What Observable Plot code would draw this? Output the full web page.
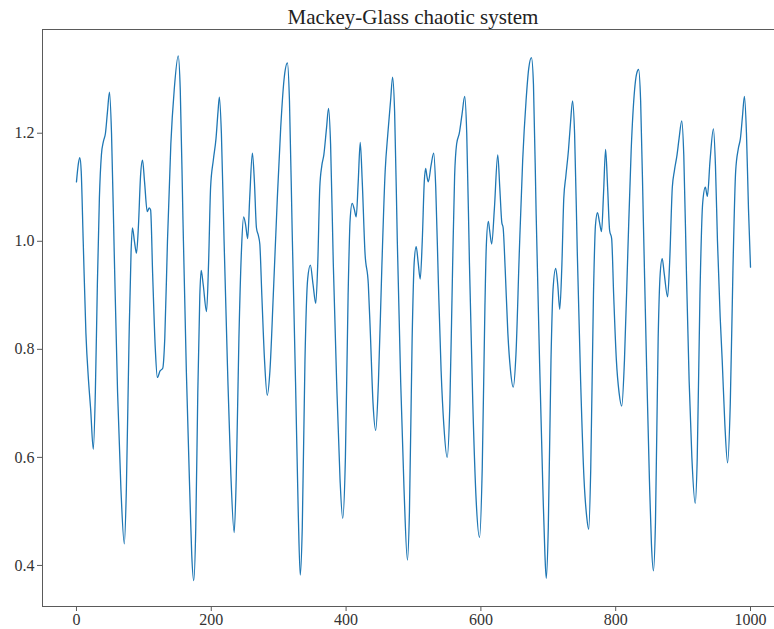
<!DOCTYPE html>
<html>
<head>
<meta charset="utf-8">
<script src="https://cdn.jsdelivr.net/npm/d3@7"></script>
<script src="https://cdn.jsdelivr.net/npm/@observablehq/plot@0.6"></script>
<style>
  html, body { margin: 0; padding: 0; background: #fff; overflow: hidden; }
  #wrap { position: relative; width: 774px; height: 629px; }
  #title {
    position: absolute; left: 413px; top: 7px; transform: translateX(-50%);
    font-family: "Liberation Serif", "DejaVu Serif", serif; font-size: 21px;
    color: #222; white-space: nowrap; line-height: 20px;
  }
  #chart { position: absolute; left: 0; top: 29px; }
  #chart svg text { font-family: "Liberation Serif", "DejaVu Serif", serif; }
</style>
</head>
<body>
<div id="wrap">
  <div id="title">Mackey-Glass chaotic system</div>
  <div id="chart"></div>
</div>
<script>
// Mackey-Glass series: time step and value at the turning points of the trace
const t = [
  0, 3, 5, 7, 10, 14, 18, 21, 25, 28, 31, 34, 37, 40, 43, 46, 49, 52, 56, 61,
  66, 71, 74, 78, 81, 83, 86, 89, 92, 95, 98, 101, 105, 108, 110, 113, 117, 120, 124, 128,
  131, 135, 140, 145, 151, 154, 158, 163, 168, 171, 174, 177, 180, 183, 185, 188, 193, 196, 199, 203,
  207, 210, 212, 215, 219, 224, 229, 234, 237, 241, 245, 248, 251, 254, 257, 261, 264, 267, 270, 272,
  275, 279, 283, 287, 292, 298, 303, 308, 313, 316, 320, 325, 329, 332, 335, 339, 343, 347, 351, 355,
  358, 361, 364, 367, 371, 374, 377, 381, 386, 391, 395, 399, 403, 406, 409, 412, 415, 418, 421, 424,
  428, 433, 436, 440, 444, 448, 453, 458, 462, 466, 469, 472, 476, 481, 486, 491, 494, 498, 501, 504,
  507, 510, 513, 516, 518, 520, 522, 526, 530, 533, 537, 541, 545, 550, 554, 558, 561, 564, 568, 572,
  576, 579, 583, 588, 593, 598, 602, 606, 608, 611, 613, 616, 620, 625, 628, 631, 633, 636, 640, 644,
  648, 652, 657, 662, 667, 671, 675, 678, 682, 687, 692, 695, 697, 700, 704, 707, 711, 714, 717, 720,
  723, 726, 730, 733, 736, 739, 743, 748, 753, 757, 760, 763, 767, 770, 773, 776, 779, 782, 785, 788,
  791, 794, 797, 801, 805, 809, 813, 818, 823, 828, 831, 834, 837, 841, 846, 850, 853, 856, 859, 863,
  866, 869, 872, 877, 880, 884, 887, 891, 894, 898, 901, 905, 909, 913, 918, 921, 925, 929, 933, 936,
  940, 945, 948, 951, 955, 958, 962, 966, 970, 974, 978, 982, 985, 988, 991, 994, 997, 1000
];
const v = [
  1.110, 1.145, 1.155, 1.130, 1.000, 0.830, 0.740, 0.690, 0.615, 0.720, 0.920, 1.080, 1.160, 1.185, 1.200, 1.240, 1.276, 1.200, 0.980, 0.720,
  0.540, 0.440, 0.540, 0.820, 0.980, 1.025, 1.000, 0.978, 1.030, 1.120, 1.150, 1.110, 1.055, 1.062, 1.058, 0.940, 0.800, 0.748, 0.760, 0.765,
  0.820, 1.000, 1.180, 1.280, 1.343, 1.280, 1.040, 0.760, 0.540, 0.420, 0.372, 0.470, 0.720, 0.900, 0.946, 0.920, 0.870, 0.960, 1.100, 1.150,
  1.190, 1.240, 1.267, 1.200, 1.000, 0.770, 0.570, 0.461, 0.560, 0.820, 0.990, 1.045, 1.030, 1.005, 1.080, 1.163, 1.110, 1.025, 1.010, 0.995,
  0.900, 0.780, 0.715, 0.760, 0.900, 1.080, 1.210, 1.300, 1.330, 1.260, 1.020, 0.740, 0.500, 0.382, 0.470, 0.780, 0.930, 0.956, 0.920, 0.885,
  0.960, 1.100, 1.140, 1.160, 1.210, 1.246, 1.180, 0.960, 0.740, 0.560, 0.487, 0.600, 0.900, 1.040, 1.070, 1.060, 1.045, 1.110, 1.183, 1.110,
  0.980, 0.920, 0.830, 0.700, 0.650, 0.740, 0.950, 1.130, 1.200, 1.260, 1.304, 1.240, 1.000, 0.740, 0.540, 0.410, 0.500, 0.820, 0.960, 0.990,
  0.960, 0.930, 1.000, 1.110, 1.135, 1.120, 1.110, 1.140, 1.163, 1.100, 0.920, 0.760, 0.660, 0.600, 0.700, 0.950, 1.120, 1.180, 1.200, 1.235,
  1.268, 1.200, 0.960, 0.700, 0.520, 0.452, 0.580, 0.880, 0.990, 1.037, 1.020, 0.995, 1.060, 1.160, 1.100, 1.035, 1.025, 0.950, 0.830, 0.760,
  0.730, 0.790, 0.980, 1.150, 1.260, 1.320, 1.340, 1.290, 1.050, 0.780, 0.540, 0.420, 0.376, 0.470, 0.780, 0.910, 0.950, 0.920, 0.874, 0.950,
  1.080, 1.120, 1.170, 1.220, 1.260, 1.200, 0.980, 0.740, 0.560, 0.490, 0.467, 0.580, 0.900, 1.030, 1.053, 1.035, 1.018, 1.090, 1.170, 1.100,
  1.020, 1.005, 0.900, 0.780, 0.720, 0.695, 0.780, 0.980, 1.170, 1.280, 1.310, 1.318, 1.260, 1.040, 0.760, 0.560, 0.440, 0.390, 0.480, 0.820,
  0.940, 0.968, 0.940, 0.897, 0.960, 1.100, 1.130, 1.160, 1.190, 1.223, 1.160, 0.940, 0.740, 0.600, 0.515, 0.600, 0.900, 1.070, 1.100, 1.083,
  1.150, 1.208, 1.140, 1.000, 0.860, 0.780, 0.660, 0.590, 0.700, 0.950, 1.130, 1.172, 1.190, 1.230, 1.268, 1.200, 1.060, 0.952
];

const xTicks = [0, 200, 400, 600, 800, 1000];
const yTicks = [0.4, 0.6, 0.8, 1.0, 1.2];
const xDomain = [-50.4, 1035.6];
const yDomain = [0.324, 1.392];

const series = t.map((d, i) => ({t: d, v: v[i]}));
const spine = "#5a5a5a";
const ink = "#333";
const font = '"Liberation Serif", "DejaVu Serif", serif';

const chart = Plot.plot({
  width: 774,
  height: 600,
  marginLeft: 42,
  marginRight: 0,
  marginTop: 0,
  marginBottom: 23,
  x: {domain: xDomain},
  y: {domain: yDomain},
  style: {fontFamily: font, fontSize: "16px", background: "#fff", overflow: "visible"},
  marks: [
    Plot.axisX(xTicks, {tickSize: 5, tickPadding: 2, stroke: spine, fill: ink, fontSize: 16, label: null,
      tickFormat: d => String(d)}),
    Plot.axisY(yTicks, {tickSize: 5, tickPadding: 3, stroke: spine, fill: ink, fontSize: 16, label: null,
      tickFormat: d => d.toFixed(1)}),
    Plot.ruleX([xDomain[0]], {stroke: spine, strokeWidth: 1}),
    Plot.ruleY(yDomain, {stroke: spine, strokeWidth: 1}),
    Plot.line(series, {x: "t", y: "v", stroke: "#1f77b4", strokeWidth: 1.3, curve: "monotone-x"})
  ]
});

document.getElementById("chart").appendChild(chart);
</script>
</body>
</html>
